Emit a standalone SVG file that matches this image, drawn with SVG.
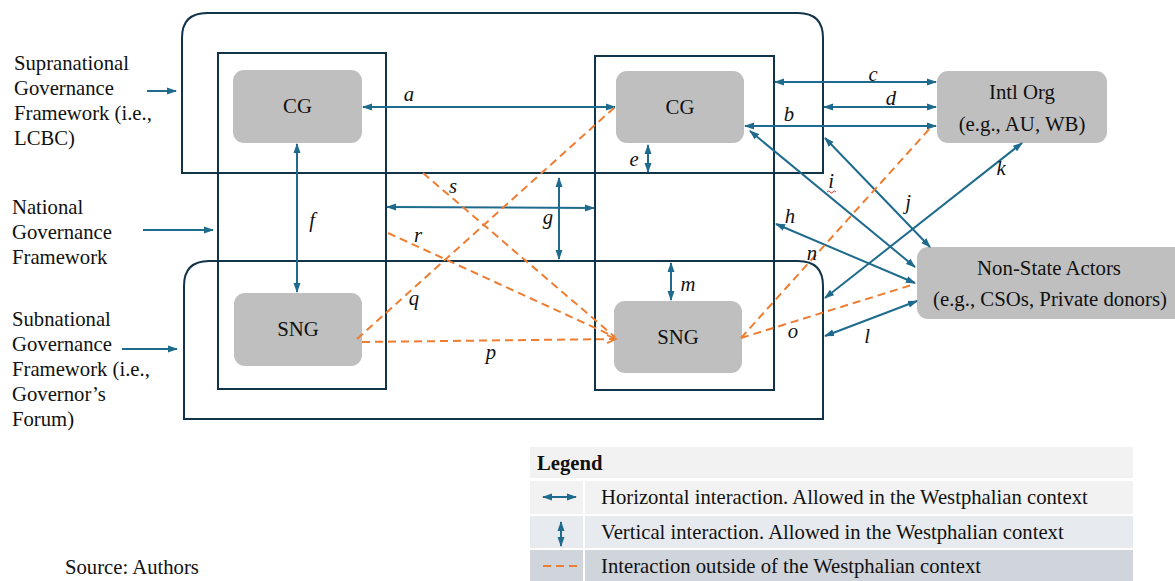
<svg xmlns="http://www.w3.org/2000/svg" width="1175" height="581" viewBox="0 0 1175 581">
<defs>
<marker id="ab" markerUnits="userSpaceOnUse" markerWidth="10" markerHeight="8" refX="9" refY="4" orient="auto-start-reverse" viewBox="0 0 10 8">
<path d="M0,0.5 L10,4 L0,7.5 z" fill="#1f6b8e"/>
</marker>
<marker id="ao" markerUnits="userSpaceOnUse" markerWidth="12" markerHeight="12" refX="10" refY="5" orient="auto" viewBox="0 0 12 10">
<path d="M1,1 L10,5 L1,9" fill="none" stroke="#ed7d31" stroke-width="1.8"/>
</marker>
<style>
.frame{fill:none;stroke:#12344a;stroke-width:2}
.node{fill:#bfbfbf}
.t{font-family:"Liberation Serif","Times New Roman",serif;font-size:20.7px;fill:#111}
.nt{font-family:"Liberation Serif","Times New Roman",serif;font-size:20.8px;fill:#111;text-anchor:middle}
.lbl{font-family:"Liberation Serif","Times New Roman",serif;font-size:20.7px;font-style:italic;fill:#111;text-anchor:middle}
.lg{font-family:"Liberation Serif","Times New Roman",serif;font-size:20.7px;fill:#111}
.b{stroke:#1f6b8e;stroke-width:2;fill:none;marker-start:url(#ab);marker-end:url(#ab)}
.b1{stroke:#1f6b8e;stroke-width:2;fill:none;marker-end:url(#ab)}
.o{stroke:#ed7d31;stroke-width:2;fill:none;stroke-dasharray:8 5}
</style>
</defs>
<rect width="1175" height="581" fill="#ffffff"/>

<g id="frames">
<path class="frame" d="M182,173 L182,38 Q182,13 207,13 L798,13 Q823,13 823,38 L823,173 Z"/>
<path class="frame" d="M184,419 L184,286 Q184,261 209,261 L798,261 Q823,261 823,286 L823,419 Z"/>
<rect class="frame" x="218" y="53" width="168" height="336"/>
<rect class="frame" x="595" y="56" width="179" height="334"/>
</g>

<g id="framework-labels">
<text class="t" x="14" y="70">Supranational</text>
<text class="t" x="14" y="95">Governance</text>
<text class="t" x="14" y="120">Framework (i.e.,</text>
<text class="t" x="14" y="145">LCBC)</text>
<text class="t" x="12" y="214">National</text>
<text class="t" x="12" y="239">Governance</text>
<text class="t" x="12" y="264">Framework</text>
<text class="t" x="12" y="326">Subnational</text>
<text class="t" x="12" y="351">Governance</text>
<text class="t" x="12" y="376">Framework (i.e.,</text>
<text class="t" x="12" y="401">Governor’s</text>
<text class="t" x="12" y="426">Forum)</text>
</g>

<g id="cg-left"><rect class="node" x="233" y="70" width="129" height="73" rx="11"/><text class="nt" x="297.5" y="113">CG</text></g>
<g id="sng-left"><rect class="node" x="234" y="293" width="128" height="73" rx="11"/><text class="nt" x="298" y="336">SNG</text></g>
<g id="cg-right"><rect class="node" x="616" y="71" width="128" height="72" rx="11"/><text class="nt" x="680" y="114">CG</text></g>
<g id="sng-right"><rect class="node" x="614" y="301" width="128" height="72" rx="11"/><text class="nt" x="678" y="344">SNG</text></g>
<g id="intl-org"><rect class="node" x="937" y="71" width="170" height="72" rx="11"/><text class="nt" x="1022" y="99">Intl Org</text><text class="nt" x="1022" y="131">(e.g., AU, WB)</text></g>
<g id="non-state"><rect class="node" x="917" y="247" width="270" height="72" rx="11"/><text class="nt" x="1049" y="275">Non-State Actors</text><text class="nt" x="1050" y="306">(e.g., CSOs, Private donors)</text></g>

<g id="connectors">
<line class="b1" x1="147" y1="91" x2="176" y2="91"/>
<line class="b1" x1="143" y1="230" x2="213" y2="230"/>
<line class="b1" x1="122" y1="349" x2="177" y2="349"/>

<line class="b" x1="363" y1="107" x2="615" y2="107"/>
<line class="b" x1="297" y1="144" x2="297" y2="292"/>
<line class="b" x1="648" y1="145" x2="648" y2="172"/>
<line class="b" x1="559" y1="178" x2="559" y2="259"/>
<line class="b" x1="387" y1="207" x2="594" y2="208"/>
<line class="b" x1="671" y1="263" x2="671" y2="300"/>
<line class="b" x1="775" y1="82" x2="936" y2="82"/>
<line class="b" x1="824" y1="107" x2="936" y2="107"/>
<line class="b" x1="745" y1="126" x2="936" y2="126"/>
<line class="b" x1="750" y1="131" x2="915" y2="267"/>
<line class="b" x1="825" y1="138" x2="930" y2="247"/>
<line class="b" x1="776" y1="224" x2="915" y2="283"/>
<line class="b" x1="1022" y1="143" x2="825" y2="298"/>
<line class="b" x1="825" y1="336" x2="917" y2="301"/>

<line class="o" x1="362" y1="342" x2="616" y2="339" marker-end="url(#ao)"/>
<line class="o" x1="357" y1="339" x2="615" y2="107"/>
<line class="o" x1="388" y1="233" x2="615" y2="337"/>
<line class="o" x1="423" y1="173" x2="615" y2="337"/>
<line class="o" x1="741" y1="338" x2="932" y2="126"/>
<line class="o" x1="741" y1="338" x2="915" y2="284"/>
</g>

<g id="connector-labels">
<text class="lbl" x="409" y="101">a</text>
<text class="lbl" x="789" y="121">b</text>
<text class="lbl" x="873" y="81">c</text>
<text class="lbl" x="891" y="105">d</text>
<text class="lbl" x="634" y="166">e</text>
<text class="lbl" x="312" y="227">f</text>
<text class="lbl" x="548" y="224">g</text>
<text class="lbl" x="790" y="223">h</text>
<text class="lbl" x="831" y="188">i</text>
<path d="M827,192 q1.5,-2 3,0 t3,0 t3,0" fill="none" stroke="#e03030" stroke-width="1"/>
<text class="lbl" x="908" y="209">j</text>
<text class="lbl" x="1001" y="175">k</text>
<text class="lbl" x="867" y="343">l</text>
<text class="lbl" x="688" y="291">m</text>
<text class="lbl" x="812" y="260">n</text>
<text class="lbl" x="793" y="338">o</text>
<text class="lbl" x="491" y="359">p</text>
<text class="lbl" x="414" y="305">q</text>
<text class="lbl" x="418" y="242">r</text>
<text class="lbl" x="453" y="193">s</text>
</g>

<g id="legend">
<rect x="530" y="447" width="603" height="31" fill="#f2f2f2"/>
<rect x="530" y="481" width="53" height="33" fill="#f2f2f2"/>
<rect x="585" y="481" width="548" height="33" fill="#f2f2f2"/>
<rect x="530" y="516" width="53" height="32" fill="#e7eaee"/>
<rect x="585" y="516" width="548" height="32" fill="#e7eaee"/>
<rect x="530" y="550" width="53" height="31" fill="#d0d4db"/>
<rect x="585" y="550" width="548" height="31" fill="#d0d4db"/>
<text x="537" y="470" font-family="Liberation Serif, Times New Roman, serif" font-size="20.7" font-weight="bold" fill="#111">Legend</text>
<line class="b" x1="543" y1="497" x2="576" y2="497"/>
<line class="b" x1="561" y1="522" x2="561" y2="546"/>
<line class="o" x1="543" y1="566" x2="580" y2="566" stroke-dasharray="7 5"/>
<text class="lg" x="601" y="504">Horizontal interaction. Allowed in the Westphalian context</text>
<text class="lg" x="601" y="539">Vertical interaction. Allowed in the Westphalian context</text>
<text class="lg" x="601" y="573">Interaction outside of the Westphalian context</text>
</g>

<text x="65" y="574" font-family="Liberation Serif, Times New Roman, serif" font-size="20.7" fill="#111">Source: Authors</text>
</svg>
